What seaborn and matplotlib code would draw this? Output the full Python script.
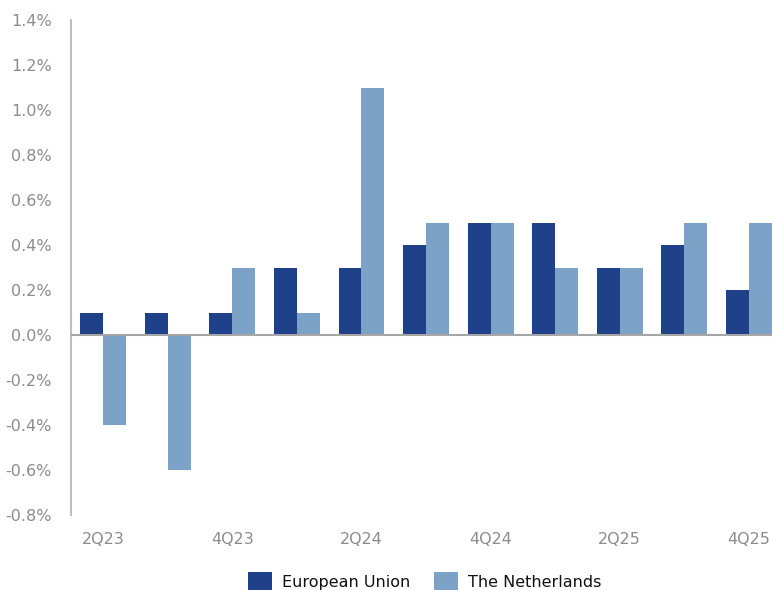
import numpy as np
import pandas as pd
import matplotlib
matplotlib.use("Agg")
import matplotlib.pyplot as plt
from matplotlib.ticker import FuncFormatter
import seaborn as sns

# 季度及两组数据（%）
quarters = ["2Q23", "3Q23", "4Q23", "1Q24", "2Q24", "3Q24",
            "4Q24", "1Q25", "2Q25", "3Q25", "4Q25"]
eu_values = [0.1, 0.1, 0.1, 0.3, 0.3, 0.4, 0.5, 0.5, 0.3, 0.4, 0.2]
nl_values = [-0.4, -0.6, 0.3, 0.1, 1.1, 0.5, 0.5, 0.3, 0.3, 0.5, 0.5]
series_names = ["European Union", "The Netherlands"]
shown_ticks = ["2Q23", "4Q23", "2Q24", "4Q24", "2Q25", "4Q25"]

df = pd.DataFrame({
    "quarter": quarters * 2,
    "value": eu_values + nl_values,
    "series": [series_names[0]] * len(quarters) + [series_names[1]] * len(quarters),
})

sns.set_style("white")
plt.rcParams["font.family"] = ["DejaVu Sans"]

fig = plt.figure(figsize=(7.72, 5.9), dpi=100)
# 绘图区右侧略超出画布（原图最后一根柱贴边）
ax = fig.add_axes([0.092, 0.127, 0.9197, 0.839])

sns.barplot(data=df, x="quarter", y="value", hue="series", order=quarters,
            hue_order=series_names, palette=["#1f418a", "#7ca2c7"],
            width=0.712, linewidth=0, saturation=1, ax=ax, legend=True)

ax.set_xlim(-0.5, len(quarters) - 0.5)
ax.set_ylim(-0.8, 1.4)
ax.set_yticks(np.arange(-0.8, 1.41, 0.2))
ax.yaxis.set_major_formatter(FuncFormatter(lambda v, _: f"{v:.1f}%" if abs(v) > 1e-9 else "0.0%"))

ax.set_xticks(range(len(quarters)))
ax.set_xticklabels([q if q in shown_ticks else "" for q in quarters])
ax.set_xlabel("")
ax.set_ylabel("")

ax.axhline(0, color="#a6a6a6", linewidth=1.5, zorder=3)
for s in ["top", "right", "bottom"]:
    ax.spines[s].set_visible(False)
ax.spines["left"].set_color("#bfbfbf")
ax.spines["left"].set_linewidth(1.5)
ax.tick_params(axis="both", length=0, labelsize=11.5, colors="#8c8c8c")
ax.tick_params(axis="y", pad=14)
ax.tick_params(axis="x", pad=12)

handles, labels = ax.get_legend_handles_labels()
ax.get_legend().remove()
leg = fig.legend(handles, labels, loc="lower center", bbox_to_anchor=(0.55, -0.027),
                 ncol=2, frameon=False, fontsize=11.5, handlelength=1.5,
                 handleheight=1.5, columnspacing=1.5, handletextpad=0.6)
for t in leg.get_texts():
    t.set_color("#111111")

fig.savefig("out.png", dpi=100)
